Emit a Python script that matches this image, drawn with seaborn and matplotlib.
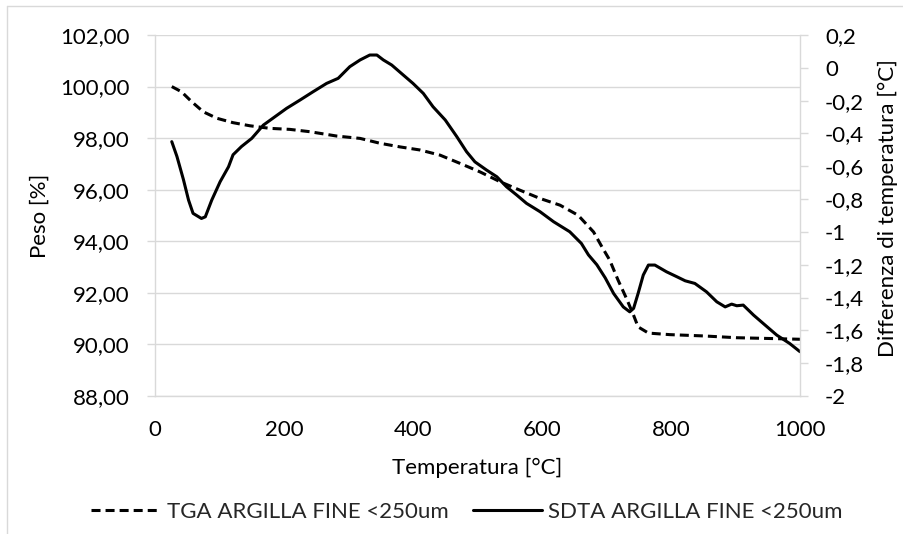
import numpy as np
import pandas as pd
import matplotlib
matplotlib.use("Agg")
import matplotlib.pyplot as plt
from matplotlib.lines import Line2D
from matplotlib.ticker import FuncFormatter, MultipleLocator
import seaborn as sns

# TGA curve: sample weight [%] vs temperature [°C]
tga_temp = [26, 41, 57, 75, 96, 121, 147, 178, 209, 240, 282, 318, 349, 380, 411,
            442, 473, 504, 535, 566, 597, 628, 656, 680, 693, 705, 718, 731, 742,
            749, 765, 798, 850, 902, 953, 1000]
tga_weight = [100.00, 99.80, 99.41, 99.02, 98.77, 98.60, 98.48, 98.38, 98.34, 98.25,
              98.08, 97.99, 97.80, 97.66, 97.54, 97.34, 97.02, 96.69, 96.31, 95.98,
              95.66, 95.40, 95.01, 94.36, 93.78, 93.27, 92.49, 91.78, 91.13, 90.68,
              90.44, 90.38, 90.33, 90.26, 90.23, 90.20]

# SDTA curve: temperature difference [°C] vs temperature [°C]
sdta_temp = [26, 34, 44, 52, 59, 72, 78, 88, 101, 114, 121, 134, 150, 168, 186, 204,
             225, 245, 266, 284, 302, 318, 333, 344, 354, 367, 382, 400, 416, 431,
             450, 468, 483, 496, 514, 530, 545, 561, 576, 597, 618, 643, 661, 672,
             685, 698, 711, 726, 736, 742, 749, 757, 765, 775, 793, 809, 822, 837,
             855, 871, 884, 894, 902, 912, 928, 943, 964, 984, 1000]
sdta_diff = [-0.45, -0.54, -0.68, -0.806, -0.887, -0.918, -0.908, -0.806, -0.694,
             -0.603, -0.53, -0.48, -0.43, -0.349, -0.298, -0.247, -0.196, -0.146,
             -0.095, -0.064, 0.007, 0.048, 0.078, 0.078, 0.048, 0.017, -0.034, -0.095,
             -0.156, -0.237, -0.318, -0.42, -0.511, -0.573, -0.623, -0.664, -0.725,
             -0.776, -0.826, -0.877, -0.938, -0.999, -1.07, -1.14, -1.20, -1.28,
             -1.375, -1.457, -1.487, -1.466, -1.375, -1.263, -1.202, -1.202, -1.243,
             -1.273, -1.298, -1.314, -1.365, -1.426, -1.457, -1.44, -1.45, -1.446,
             -1.507, -1.558, -1.629, -1.68, -1.73]

tga_label = "TGA ARGILLA FINE <250um"
sdta_label = "SDTA ARGILLA FINE <250um"

tga_df = pd.DataFrame({"Temperatura": tga_temp, "Peso": tga_weight})
sdta_df = pd.DataFrame({"Temperatura": sdta_temp, "Diff": sdta_diff})

sns.set_style("white")
plt.rcParams["font.family"] = ["Lato", "DejaVu Sans"]

GRID = "#d9d9d9"
TEXT = "#000000"
FS = 16
LW = 2.2
DASH = (0, (2.95, 1.65))

fig = plt.figure(figsize=(9.04, 5.34), dpi=100)
ax = fig.add_axes([155 / 904, 1 - 396 / 534, 645 / 904, 361 / 534])
ax2 = ax.twinx()

sns.lineplot(data=tga_df, x="Temperatura", y="Peso", ax=ax, color="black",
             linewidth=LW, linestyle=DASH, legend=False)
sns.lineplot(data=sdta_df, x="Temperatura", y="Diff", ax=ax2, color="black",
             linewidth=LW, legend=False)

ax.set_xlim(0, 1000)
ax.set_ylim(88, 102)
ax2.set_ylim(-2, 0.2)
ax.xaxis.set_major_locator(MultipleLocator(200))
ax.yaxis.set_major_locator(MultipleLocator(2))
ax2.set_yticks(np.round(np.arange(-2.0, 0.21, 0.2), 1))

ax.yaxis.set_major_formatter(FuncFormatter(lambda v, p: f"{v:.2f}".replace(".", ",")))


def general_fmt(v, p):
    v = round(v, 1)
    if abs(v) < 1e-9:
        return "0"
    return f"{v:g}".replace(".", ",")


ax2.yaxis.set_major_formatter(FuncFormatter(general_fmt))

ax.grid(axis="y", color=GRID, linewidth=1.0)
ax.grid(axis="x", visible=False)
ax2.grid(False)
ax.set_axisbelow(True)

for a in (ax, ax2):
    a.spines["top"].set_visible(False)
    for side in ("left", "right", "bottom"):
        a.spines[side].set_color(GRID)
        a.spines[side].set_linewidth(1.0)
ax2.spines["left"].set_visible(False)
ax2.spines["bottom"].set_visible(False)
ax.spines["right"].set_visible(False)

ax.tick_params(axis="y", direction="out", length=6, width=1.0, color=GRID,
               labelsize=FS, labelcolor=TEXT, pad=12)
ax.tick_params(axis="x", direction="out", length=5, width=1.0, color=GRID,
               labelsize=FS, labelcolor=TEXT, pad=12)
ax2.tick_params(axis="y", direction="out", length=6, width=1.0, color=GRID,
                labelsize=FS, labelcolor=TEXT, pad=12)

ax.set_xlabel("Temperatura [°C]", fontsize=FS, color=TEXT)
ax.set_ylabel("Peso [%]", fontsize=FS, color=TEXT)
ax2.set_ylabel("Differenza di temperatura [°C]", fontsize=FS, color=TEXT)
for lab in (ax.xaxis.label, ax.yaxis.label, ax2.yaxis.label):
    lab.set_verticalalignment("center")
ax.xaxis.set_label_coords(0.5, (396 - 468) / 361)
ax.yaxis.set_label_coords((40 - 155) / 645, 0.5)
ax2.yaxis.set_label_coords((888 - 155) / 645, 0.52)

handles = [
    Line2D([0], [0], color="black", linewidth=LW, linestyle=DASH),
    Line2D([0], [0], color="black", linewidth=LW),
]
fig.legend(handles, [tga_label, sdta_label], loc="center",
           bbox_to_anchor=(467 / 904, 1 - 512 / 534), ncol=2, frameon=False,
           fontsize=FS, handlelength=3.1, handletextpad=0.3, columnspacing=1.1)

# outer chart-area border
fig.add_artist(Line2D([7 / 904, 1.0], [1 - 6 / 534, 1 - 6 / 534],
                      transform=fig.transFigure, color=GRID, linewidth=1.0))
fig.add_artist(Line2D([7 / 904, 7 / 904], [0.0, 1 - 6 / 534],
                      transform=fig.transFigure, color=GRID, linewidth=1.0))

fig.savefig("out.png", dpi=100)
